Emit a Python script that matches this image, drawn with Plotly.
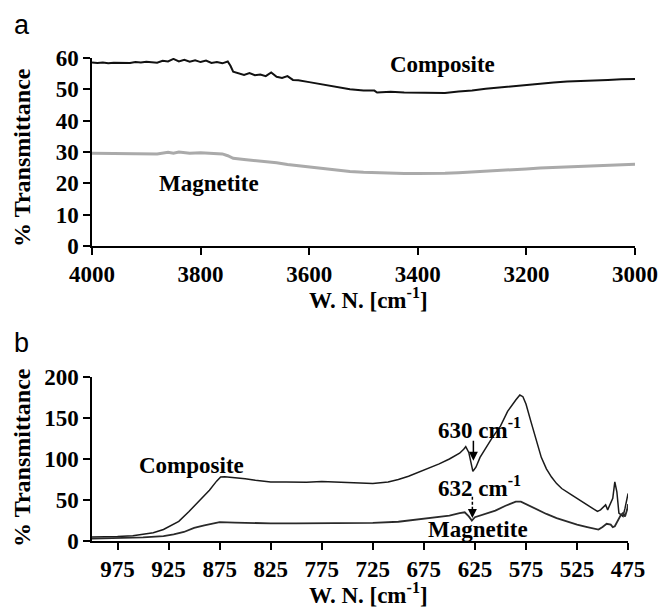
import plotly.graph_objects as go

# ---------------- Panel a data (W.N. 4000-3000 cm-1) ----------------
wn_a_comp = [4000, 3990, 3980, 3970, 3960, 3950, 3940, 3930, 3920, 3910, 3900, 3890, 3880, 3870,
             3860, 3850, 3840, 3830, 3820, 3810, 3800, 3790, 3780, 3770, 3760, 3750, 3745, 3740,
             3730, 3720, 3710, 3700, 3690, 3680, 3670, 3660, 3650, 3640, 3630, 3620, 3600, 3575,
             3550, 3525, 3500, 3480, 3475, 3450, 3425, 3400, 3375, 3350, 3325, 3300, 3275, 3250,
             3225, 3200, 3175, 3150, 3125, 3100, 3075, 3050, 3025, 3000]
t_a_comp = [58.6, 58.4, 58.6, 58.3, 58.5, 58.5, 58.6, 58.4, 58.7, 58.6, 58.8, 58.7, 58.5, 59.1,
            58.9, 59.7, 58.9, 59.4, 58.8, 59.3, 58.7, 59.2, 58.4, 58.7, 58.3, 58.9, 57.5, 55.6,
            55.0, 54.6, 55.2, 54.5, 54.7, 54.2, 55.4, 54.0, 53.6, 54.2, 53.0, 52.9, 52.3, 51.5,
            50.6, 50.0, 49.6, 49.6, 49.0, 49.2, 49.0, 48.9, 48.9, 48.8, 49.3, 49.6, 50.2, 50.6,
            51.0, 51.6, 51.9, 52.2, 52.5, 52.6, 52.8, 53.0, 53.2, 53.3]

wn_a_mag = [4000, 3950, 3900, 3880, 3860, 3850, 3840, 3820, 3800, 3780, 3760, 3750, 3740, 3720,
            3700, 3680, 3660, 3640, 3620, 3600, 3575, 3550, 3525, 3500, 3475, 3450, 3425, 3400,
            3375, 3350, 3325, 3300, 3275, 3250, 3225, 3200, 3175, 3150, 3125, 3100, 3075, 3050,
            3025, 3000]
t_a_mag = [29.6, 29.5, 29.6, 29.4, 29.9, 29.6, 30.0, 29.6, 29.8, 29.5, 29.4, 28.8, 28.0, 27.6,
           27.3, 26.8, 26.6, 26.0, 25.6, 25.2, 24.8, 24.2, 23.8, 23.5, 23.3, 23.2, 23.1, 23.1,
           23.1, 23.2, 23.4, 23.6, 23.8, 24.1, 24.4, 24.6, 24.9, 25.1, 25.3, 25.5, 25.7, 25.9,
           26.0, 26.1]

ticks_a_x = [4000, 3800, 3600, 3400, 3200, 3000]
ticks_a_y = [0, 10, 20, 30, 40, 50, 60]

# ---------------- Panel b data (W.N. 1000-475 cm-1) ----------------
wn_b_comp = [1000, 990, 975, 960, 950, 940, 930, 925, 915, 905, 895, 885, 878, 874, 870, 860,
             850, 840, 830, 825, 810, 800, 790, 775, 760, 750, 740, 725, 710, 700, 690, 680,
             670, 660, 650, 640, 636, 634, 631, 629, 627, 624, 620, 615, 608, 600, 593, 585,
             581, 578, 575, 570, 565, 560, 555, 550, 545, 540, 530, 520, 515, 510, 505, 502,
             500, 497, 495, 492, 490, 488, 486, 484, 480, 478, 476, 475]
t_b_comp = [5, 5, 5.5, 6.5, 8, 10, 14, 17, 24, 36, 49, 62, 73, 78, 78.5, 77.5,
            76, 74, 72.5, 72, 72, 71.5, 71.5, 72.5, 71.5, 71, 70.5, 70, 72, 75, 79, 84,
            89, 94, 100, 107, 112, 115, 108, 95, 85, 90, 102, 112, 126, 140, 158, 172,
            178, 176, 167, 145, 122, 102, 88, 78, 70, 64, 56, 48, 43, 39, 36, 38,
            40, 44, 38, 47, 52, 72, 60, 34, 30, 40, 52, 58]

wn_b_mag = [1000, 975, 950, 930, 920, 910, 900, 890, 880, 875, 860, 850, 825, 800, 775, 750,
            725, 700, 675, 650, 640, 635, 631, 628, 625, 615, 605, 595, 585, 580, 575, 565,
            555, 545, 535, 525, 515, 508, 504, 500, 496, 492, 490, 488, 485, 482, 480, 478,
            476, 475]
t_b_mag = [3, 3.5, 4.5, 6, 8, 11, 16, 19, 22, 23, 22.5, 22, 21.5, 21.5, 21.5, 21.5,
           22, 23.5, 27, 31, 34, 35, 30, 25, 29, 33, 37, 43, 48, 48, 45, 38,
           33, 28, 24, 20, 17, 15, 14, 17, 21, 20, 17, 18, 25, 32, 34, 30,
           38, 45]

ticks_b_x = [975, 925, 875, 825, 775, 725, 675, 625, 575, 525, 475]
ticks_b_y = [0, 50, 100, 150, 200]

# ---------------- Figure ----------------
W, H = 670, 607
ML, MR, MT, MB = 92, 28, 58, 66
PW, PH = W - ML - MR, H - MT - MB


def px(xp):
    return (xp - ML) / PW


def py(yp):
    return (H - MB - yp) / PH


SERIF = "Times New Roman, Liberation Serif, serif"
SANS = "Liberation Sans, Arial, sans-serif"


def bold(v):
    return "<b>%s</b>" % v


fig = go.Figure()
fig.add_trace(go.Scatter(x=wn_a_comp, y=t_a_comp, mode="lines", xaxis="x", yaxis="y",
                         line=dict(color="#111111", width=2), showlegend=False))
fig.add_trace(go.Scatter(x=wn_a_mag, y=t_a_mag, mode="lines", xaxis="x", yaxis="y",
                         line=dict(color="#aaaaaa", width=3), showlegend=False))
fig.add_trace(go.Scatter(x=wn_b_comp, y=t_b_comp, mode="lines", xaxis="x2", yaxis="y2",
                         line=dict(color="#1a1a1a", width=1.5), showlegend=False))
fig.add_trace(go.Scatter(x=wn_b_mag, y=t_b_mag, mode="lines", xaxis="x2", yaxis="y2",
                         line=dict(color="#2a2a2a", width=1.8), showlegend=False))

tickfont = dict(family=SERIF, size=23, color="black")
axis_common = dict(showline=True, linecolor="black", linewidth=1.5, ticks="outside",
                   ticklen=7, tickwidth=1.5, tickcolor="black", showgrid=False,
                   zeroline=False, tickfont=tickfont)

fig.update_layout(
    width=W, height=H,
    margin=dict(l=ML, r=MR, t=MT, b=MB),
    plot_bgcolor="white", paper_bgcolor="white",
    font=dict(family=SERIF, color="black"),
    xaxis=dict(domain=[0, 1], range=[4000, 3000], tickvals=ticks_a_x,
               ticktext=[bold(v) for v in ticks_a_x], anchor="y", **axis_common),
    yaxis=dict(domain=[py(246), 1], range=[0, 60], tickvals=ticks_a_y,
               ticktext=[bold(v) for v in ticks_a_y], anchor="x", **axis_common),
    xaxis2=dict(domain=[0, px(635)], range=[1000, 475], tickvals=ticks_b_x,
                ticktext=[bold(v) for v in ticks_b_x], anchor="y2", **axis_common),
    yaxis2=dict(domain=[0, py(377)], range=[0, 200], tickvals=ticks_b_y,
                ticktext=[bold(v) for v in ticks_b_y], anchor="x2", **axis_common),
)

lab = dict(family=SERIF, size=23, color="black")
C = dict(xanchor="center", yanchor="middle", showarrow=False)
ann = [
    # panel letters
    dict(text="a", xref="paper", yref="paper", x=px(21), y=py(25), font=dict(family=SANS, size=27, color="black"), **C),
    dict(text="b", xref="paper", yref="paper", x=px(21), y=py(343), font=dict(family=SANS, size=27, color="black"), **C),
    # axis titles
    dict(text=bold("% Transmittance"), xref="paper", yref="paper", x=px(21), y=py(157), textangle=-90,
         font=dict(family=SERIF, size=24, color="black"), **C),
    dict(text=bold("% Transmittance"), xref="paper", yref="paper", x=px(21), y=py(457), textangle=-90,
         font=dict(family=SERIF, size=24, color="black"), **C),
    dict(text=bold("W. N. [cm<sup>-1</sup>]"), xref="paper", yref="paper", x=px(372), y=py(298), font=lab, **C),
    dict(text=bold("W. N. [cm<sup>-1</sup>]"), xref="paper", yref="paper", x=px(372), y=py(593), font=lab, **C),
    # panel a labels
    dict(text=bold("Composite"), xref="x", yref="y", x=3355, y=57.8, font=lab, **C),
    dict(text=bold("Magnetite"), xref="x", yref="y", x=3784, y=20.1, font=lab, **C),
    # panel b labels
    dict(text=bold("Composite"), xref="x2", yref="y2", x=903, y=91.5, font=lab, **C),
    dict(text=bold("630 cm<sup>-1</sup>"), xref="x2", yref="y2", x=621, y=136.6, font=lab, **C),
    dict(text=bold("632 cm<sup>-1</sup>"), xref="x2", yref="y2", x=621, y=67, font=lab, **C),
    dict(text=bold("Magnetite"), xref="x2", yref="y2", x=622, y=14.6, font=lab, **C),
    # arrows
    dict(text="", xref="x2", yref="y2", axref="x2", ayref="y2", x=626.5, y=98, ax=626.5, ay=124,
         showarrow=True, arrowhead=2, arrowsize=1.2, arrowwidth=1.5, arrowcolor="black"),
    dict(text="", xref="x2", yref="y2", axref="x2", ayref="y2", x=627.5, y=28, ax=627.5, ay=36,
         showarrow=True, arrowhead=2, arrowsize=1.2, arrowwidth=1.5, arrowcolor="black"),
]
fig.update_layout(annotations=ann)
fig.add_shape(type="line", xref="x2", yref="y2", x0=627.5, x1=627.5, y0=54, y1=32,
              line=dict(color="black", width=1.5, dash="3px,2px"))

fig.write_html("out.html")
